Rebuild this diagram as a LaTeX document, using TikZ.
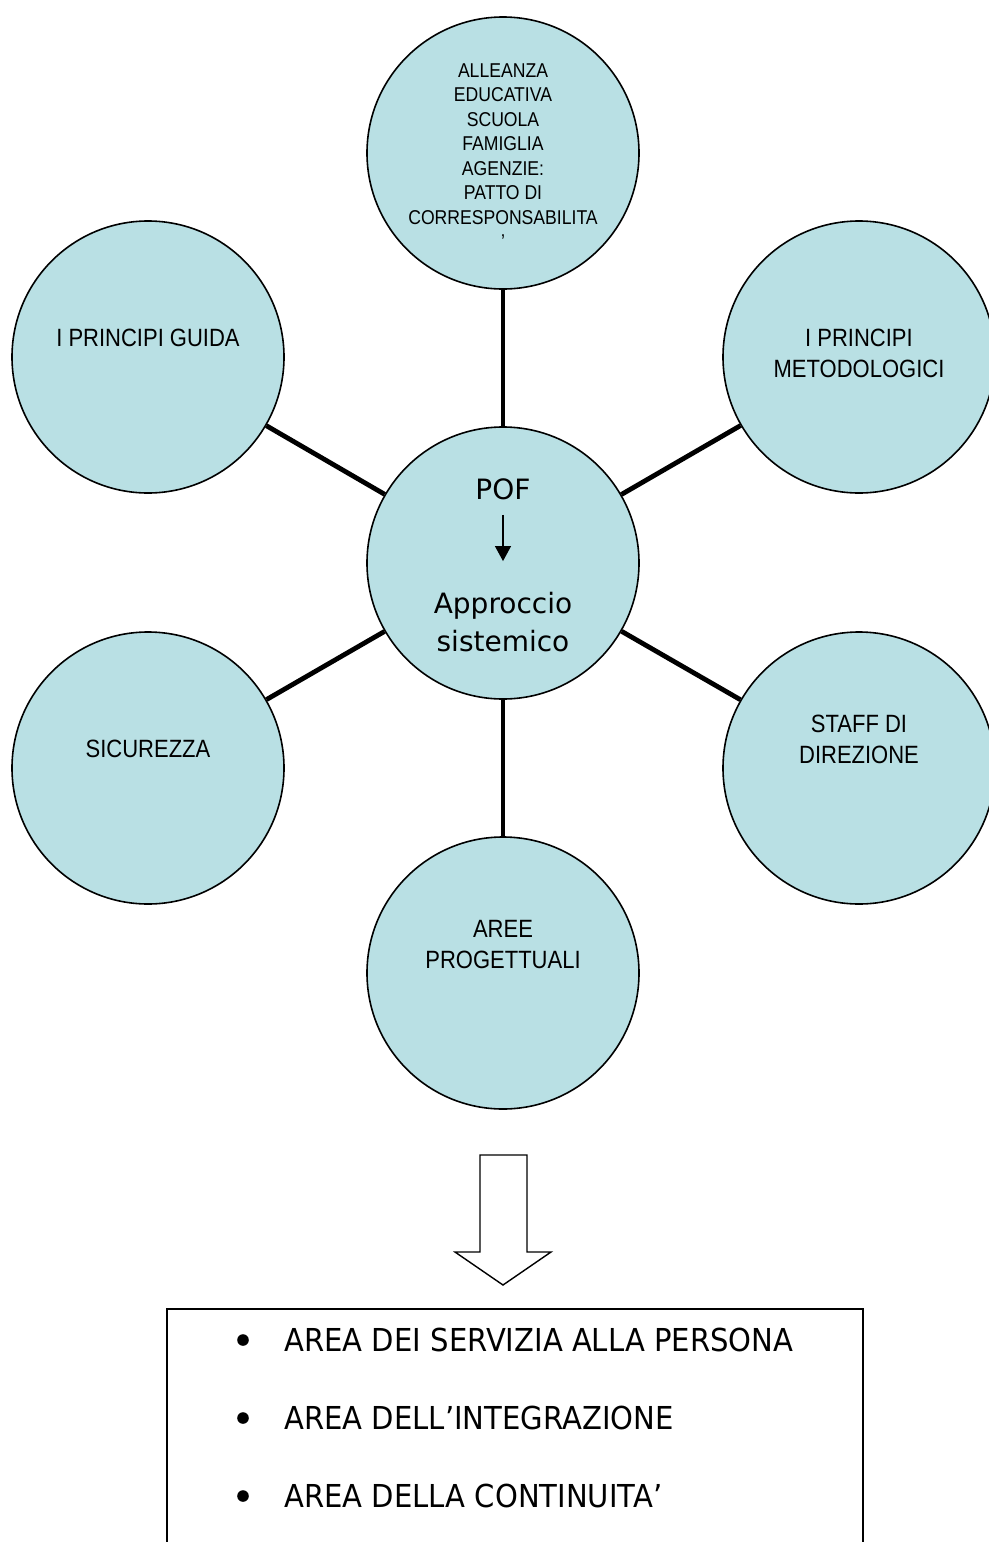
\documentclass[tikz,border=0pt]{standalone}
\usepackage{fontspec}
\setmainfont{Liberation Sans}
\newfontfamily\circfont[FakeStretch=0.88]{Liberation Sans}
\newfontfamily\poffont{DejaVu Sans}
\newfontfamily\listfont[FakeStretch=0.92]{DejaVu Sans}
\usetikzlibrary{arrows.meta}
\definecolor{pofblue}{RGB}{185,224,228}

\begin{document}
\begin{tikzpicture}[x=0.5pt,y=-0.5pt,
  bolla/.style={circle,draw=black,line width=0.8pt,fill=pofblue,minimum size=136pt,inner sep=0pt},
  raggio/.style={line width=2.4pt},
  etichetta/.style={align=center,inner sep=0pt,font=\circfont\fontsize{12.5}{15.5}\selectfont},
  voce/.style={anchor=west,inner sep=0pt,font=\listfont\fontsize{15.8}{19}\selectfont},
  puntino/.style={circle,fill=black,inner sep=0pt,minimum size=5.8pt}]
  \useasboundingbox (0,0) rectangle (989,1542);
  \node[bolla] (pof) at (503,563) {};
  \node[bolla] (alleanza) at (503,153) {};
  \node[bolla] (guida) at (148,357) {};
  \node[bolla] (metodo) at (859,357) {};
  \node[bolla] (sicurezza) at (148,768) {};
  \node[bolla] (staff) at (859,768) {};
  \node[bolla] (aree) at (503,973) {};
  \foreach \n in {alleanza,guida,metodo,sicurezza,staff,aree}
    \draw[raggio] (pof) -- (\n);

  \node[etichetta,font=\circfont\fontsize{10}{12.25}\selectfont] (alleanzatxt) at (503,156)
    {ALLEANZA\\EDUCATIVA\\SCUOLA\\FAMIGLIA\\AGENZIE:\\PATTO DI\\CORRESPONSABILITA\\’};
  \node[etichetta] (guidatxt) at (148,338) {I PRINCIPI GUIDA};
  \node[etichetta] (metodotxt) at (859,353) {I PRINCIPI\\METODOLOGICI};
  \node[etichetta] (sicurezzatxt) at (148,749) {SICUREZZA};
  \node[etichetta] (stafftxt) at (859,739) {STAFF DI\\DIREZIONE};
  \node[etichetta] (areetxt) at (503,945) {AREE\\PROGETTUALI};

  \node[inner sep=0pt,anchor=base,font=\poffont\fontsize{14}{18.7}\selectfont] (poftxt) at (503,499) {POF};
  \node[inner sep=0pt,align=center,font=\poffont\fontsize{14}{18.7}\selectfont] (approccio) at (503,622) {Approccio\\sistemico};
  \draw[-{Triangle[length=7.5pt,width=8pt]},line width=0.6pt,shorten <=7.5pt,shorten >=15.5pt] (poftxt) -- (approccio);

  \draw[line width=0.7pt,fill=white] (480,1155) -- (527,1155) -- (527,1252) -- (551,1252) -- (503,1285) -- (455,1252) -- (480,1252) -- cycle;

  \draw[line width=0.8pt] (167,1560) |- (863,1309) -- (863,1560);
  \node[voce] (area1) at (284,1340) {AREA DEI SERVIZIA ALLA PERSONA};
  \node[voce] (area2) at (284,1418) {AREA DELL’INTEGRAZIONE};
  \node[voce] (area3) at (284,1496) {AREA DELLA CONTINUITA’};
  \foreach \i in {1,2,3}
    \node[puntino] (punto\i) at (243,1262+78*\i) {};
\end{tikzpicture}
\end{document}
